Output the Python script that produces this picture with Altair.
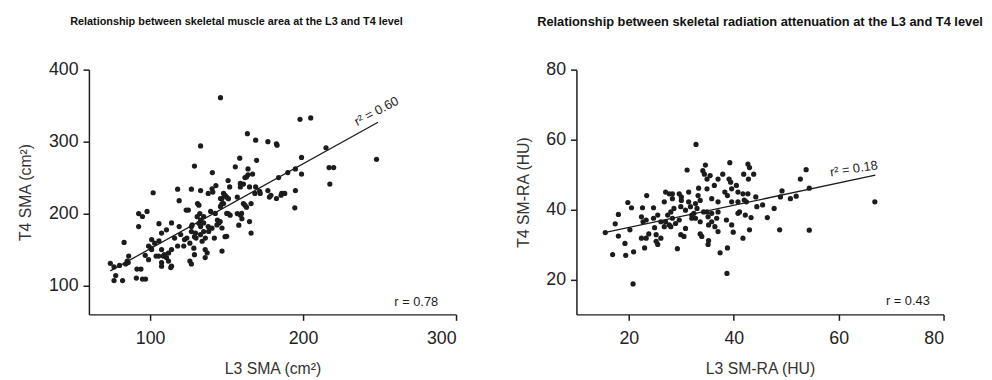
import altair as alt
import pandas as pd

# ---------------- Left panel data: skeletal muscle area ----------------
l3_sma = [146, 198, 205, 163.6, 169, 177, 182.6, 133, 158.6, 169.6, 215, 248, 217, 220, 217.5,
          199, 199, 195, 195, 194.6, 190, 186, 188, 184, 178, 177, 169, 172, 168.5, 164, 167, 165,
          166, 163, 165, 166, 159, 159, 155.7, 157, 159, 160, 158, 151, 151, 148, 150, 146, 147,
          140.7, 143, 141, 138, 133, 127, 118, 119, 123.6, 125, 129, 131, 132.5, 133, 135, 139.6,
          144, 145, 147, 149, 142, 147, 136, 136, 129, 130, 126, 129, 126, 127, 122.5, 120, 119,
          114, 110.7, 105.8, 102, 92.5, 95, 92.5, 98, 83, 85.7, 86, 101, 103, 105.8, 99, 101, 96.8,
          99, 107.5, 107.5, 108.6, 112, 114, 112, 114, 118, 105.6, 110.7, 107.5, 91.4, 94, 91, 95,
          97, 74, 76.4, 77.5, 76.4, 82, 80, 84, 85, 133, 127, 135, 138, 127, 124, 107.5, 116, 146,
          148, 152, 157, 161, 135, 182.6, 140.5, 161, 162, 164, 163, 183, 171.6, 179, 185.6, 131.9,
          131.9, 132.9, 134, 136.1, 138.3, 140.4, 127.5, 129.7, 130.8, 137.3, 142.6, 145.8, 143.7,
          150.1, 150.1, 152.3, 159.8, 162, 146.9, 149, 151.2, 100.6, 109.3, 113.5, 103.9, 122, 128.6]
t4_sma = [361, 331, 333, 311, 302, 300, 297, 294, 277, 274, 291.5, 275.5, 264, 264, 241,
          278, 255, 262, 232, 208, 257, 228, 228, 250, 223, 232, 237, 228, 228, 262, 255, 237,
          214, 209, 189, 173, 237, 242, 265, 223, 198, 193, 184, 246, 200, 228, 223, 221, 214,
          257, 239, 230, 228, 232, 234, 234, 218, 205, 205, 266, 214, 200, 191, 187, 203,
          191, 187, 180, 168, 166, 148, 150, 139, 168, 166, 159, 143, 134, 130, 164, 171, 182,
          187, 177.5, 186, 229, 200, 196, 182, 203, 160, 132, 141, 164, 159, 162, 155, 150, 142,
          136, 150, 132, 141, 145, 150, 134, 127, 155, 141, 139, 127, 123, 123, 110.5, 109,
          109, 131, 126, 114, 107, 107, 128, 130, 134, 182, 182, 175, 182, 175, 166, 173, 166, 210,
          214, 237, 200, 214, 196, 221, 234.5, 241, 250, 254, 251, 295, 231, 225.5, 225.5, 211.7,
          186.6, 170.7, 161.6, 166, 175.2, 179.8, 184.3, 172.9, 195.7, 145.6, 200.3, 188.9, 184.3,
          200.3, 168.4, 197.8, 200.3, 211.7, 220.8, 225.4, 220.8, 152, 143, 125, 141, 155, 152]

l3_fit = [74, 249]
t4_fit = [120.5, 327]

# ---------------- Right panel data: radiation attenuation ----------------
l3_ra = [32.8, 38.7, 20.8, 16.9, 19.4, 20.9, 15.5, 17.4, 18, 18, 19.25, 19.8, 20.5, 20.2, 23,
         22.4, 23.3, 22.6, 22.4, 23.3, 22.7, 23.4, 24.7, 24.7, 23.8, 24.9, 25.2, 25.2, 25.5, 26.1,
         26.75, 27, 27.7, 28.3, 27, 27.4, 27.7, 28, 28.3, 28.6, 28.9, 29.25, 29.6, 30, 29.9, 29.6,
         29.9, 30.5, 30.8, 31.1, 31.4, 31.75, 32, 32.7, 32.4, 33, 33.2, 33.3, 33.6, 33.6, 33.9,
         34.1, 34.4, 34.6, 34.9, 34.9, 34.9, 35.1, 35.2, 35.2, 35.1, 35.8, 35.8, 35.5, 36.3,
         36.75, 37, 37, 37, 37.4, 37.9, 38.3, 38.8, 38.6, 38.8, 39.25, 39.1, 39.4, 39.6, 39.6,
         39.9, 40.5, 40.8, 40.8, 41.1, 41.9, 42, 42.4, 42.2, 41.75, 42.7, 43, 42.8, 42.7, 43,
         43.3, 43.8, 44.2, 44.4, 45.5, 46.4, 47.7, 48.75, 48.9, 49.2, 50.8, 51.9, 52.7, 53.8,
         54.4, 54.4, 66.9, 25.5, 26.1, 26.75, 28, 30.8, 31.4, 32, 33.6, 36.4, 37, 34.25, 35.8,
         32.7, 30, 28.3, 40.8, 41.75, 39.6]
t4_ra = [58.6, 21.7, 18.7, 27.1, 26.9, 27.9, 33.4, 35.9, 38.6, 32.4, 30.3, 42, 40.5, 34.2, 29,
         31.8, 31.8, 40.5, 37.9, 37, 36.5, 44, 40.5, 37.5, 33, 34.8, 32.8, 30.9, 30, 31.8,
         42.2, 45, 44.5, 44.5, 36.5, 38.4, 35.6, 35.1, 37.5, 40.3, 36, 28.8, 44.5, 43.6, 40.8, 37,
         32.8, 32.3, 34.6, 51.3, 42.2, 40.8, 37.5, 37.5, 38.9, 40.3, 44, 46.1, 42.6, 33, 32.3,
         51.1, 50.1, 52.7, 48.7, 45.9, 39.3, 37.9, 35.6, 31.1, 30, 43.1, 38.9, 49.7, 46.9,
         37.5, 48.7, 42.2, 39.3, 27.6, 50.1, 45, 44, 37, 29, 53.4, 48.7, 47.8, 42.2, 35.6,
         33.5, 46.9, 45, 42.2, 39.3, 50.1, 42.7, 42.2, 38.4, 31.8, 53, 52, 48.7, 44.5, 34.2,
         37.7, 50.1, 43.6, 40.8, 41.3, 37.7, 40.3, 34.2, 43.6, 45.3, 43.1, 43.8, 48.7, 51.4,
         46.1, 34.1, 42.2, 38.4, 36.5, 35.1, 39.3, 39.8, 45, 38.4, 36.5, 35.1, 33.7, 39.3, 36.5,
         41.7, 42.6, 43.1, 38.9, 44.5, 45.9]

l3_ra_fit = [15.1, 67]
t4_ra_fit = [33.3, 49.8]

titles = ["Relationship between skeletal muscle area at the L3 and T4 level",
          "Relationship between skeletal radiation attenuation at the L3 and T4 level"]

INK = "#1c1c1c"
FONT = "Liberation Sans"


def panel(xs, ys, fx, fy, xdom, ydom, xvals, yvals, xtitle, ytitle, title_params,
          r2_pos, r2_label, r2_angle, r_pos, r_label):
    pts = pd.DataFrame({"x": xs, "y": ys})
    fit = pd.DataFrame({"x": fx, "y": fy})
    xenc = alt.X("x:Q", scale=alt.Scale(domain=xdom, nice=False, zero=False),
                 axis=alt.Axis(values=xvals, title=xtitle, labelPadding=9, titlePadding=14))
    yenc = alt.Y("y:Q", scale=alt.Scale(domain=ydom, nice=False, zero=False),
                 axis=alt.Axis(values=yvals, title=ytitle, labelPadding=5, titlePadding=15))
    dots = alt.Chart(pts).mark_circle(size=28, color=INK, opacity=1).encode(x=xenc, y=yenc)
    line = alt.Chart(fit).mark_line(color=INK, strokeWidth=1.3).encode(x="x:Q", y="y:Q")
    r2 = alt.Chart(pd.DataFrame({"x": [r2_pos[0]], "y": [r2_pos[1]], "t": [r2_label]})).mark_text(
        angle=r2_angle, fontSize=13, font=FONT, color=INK).encode(x="x:Q", y="y:Q", text="t:N")
    r = alt.Chart(pd.DataFrame({"x": [r_pos[0]], "y": [r_pos[1]], "t": [r_label]})).mark_text(
        fontSize=13, font=FONT, color=INK).encode(x="x:Q", y="y:Q", text="t:N")
    return alt.layer(dots, line, r2, r).properties(width=372, height=248, title=title_params)


left_title = alt.TitleParams(titles[0], anchor="start", frame="group", dx=-19, offset=34,
                             fontSize=11, font=FONT, fontWeight="bold", color="#111")
right_title = alt.TitleParams(titles[1], anchor="middle", frame="group", offset=32,
                              fontSize=13, font=FONT, fontWeight="bold", color="#111")

left = panel(l3_sma, t4_sma, l3_fit, t4_fit, [60, 300], [60, 400], [100, 200, 300],
             [100, 200, 300, 400], "L3 SMA  (cm²)", "T4 SMA (cm²)", left_title,
             (248, 342), "r² = 0.60", 332, (274, 76.7), "r = 0.78")
right = panel(l3_ra, t4_ra, l3_ra_fit, t4_ra_fit, [10, 80], [10, 80], [20, 40, 60, 80],
              [20, 40, 60, 80], "L3 SM-RA (HU)", "T4 SM-RA (HU)", right_title,
              (62.9, 51.6), "r² = 0.18", 351, (73.2, 13.9), "r = 0.43")

chart = alt.hconcat(left, right, spacing=58).properties(
    padding={"left": 9, "top": 6, "right": 0, "bottom": 0}
).configure_view(stroke=None).configure_axis(
    grid=False, domainColor=INK, domainWidth=1.5, tickColor=INK, tickWidth=1.5, tickSize=6,
    labelFontSize=18, labelFont=FONT, labelColor="#222",
    titleFontSize=16, titleFont=FONT, titleFontWeight="normal", titleColor="#333"
)

chart.save("out.html", embed_options={"renderer": "svg", "actions": False})
